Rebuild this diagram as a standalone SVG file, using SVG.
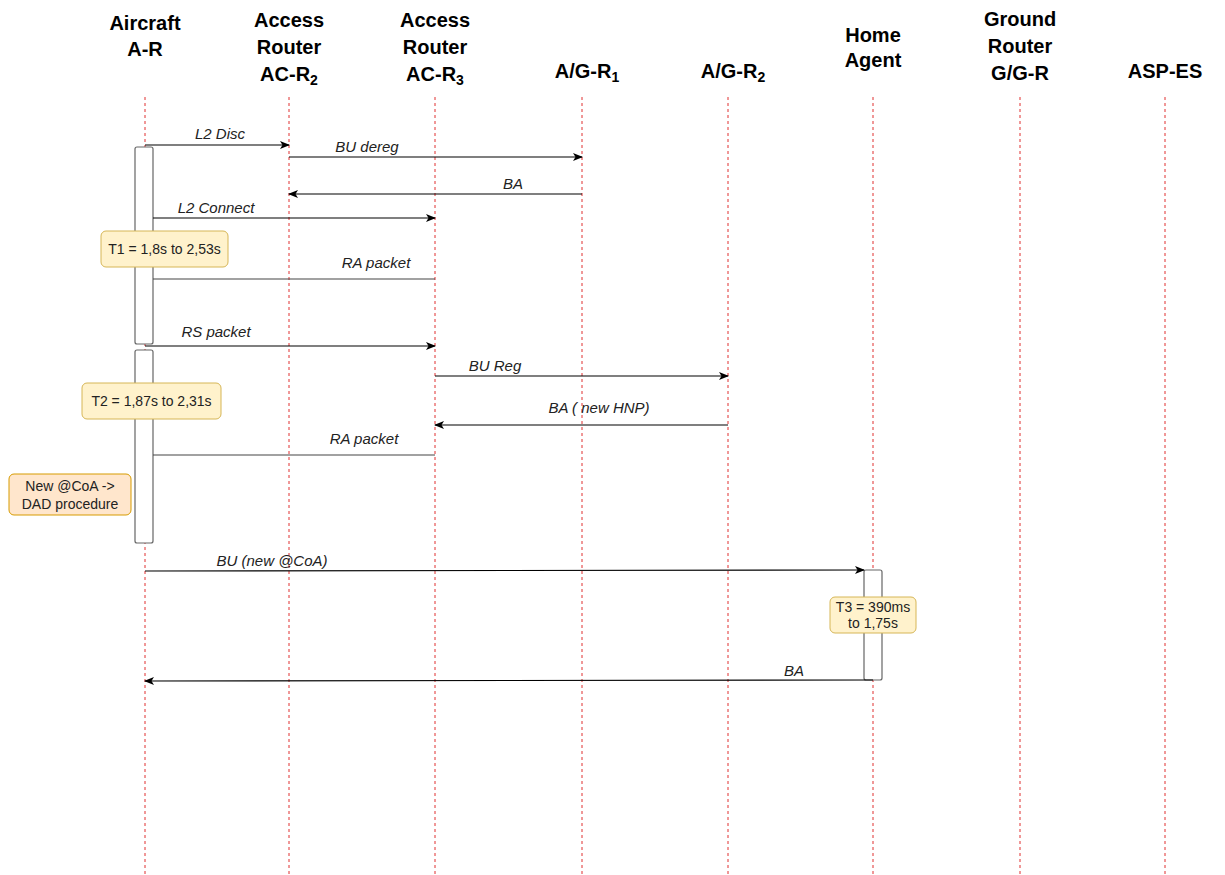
<svg xmlns="http://www.w3.org/2000/svg" width="1225" height="875" viewBox="0 0 1225 875">
<style>
.hdr{font-family:"Liberation Sans",Arial,sans-serif;font-weight:bold;font-size:20px;fill:#000;text-anchor:middle}
.sub{font-size:14px}
.life{stroke:#e03030;stroke-width:1;stroke-dasharray:3,3;fill:none}
.act{fill:#fff;stroke:#666;stroke-width:1.2}
.msg{stroke:#000;stroke-width:1.2;fill:none}
.plain{stroke:#444;stroke-width:1.2;fill:none}
.lbl{font-family:"Liberation Sans",Arial,sans-serif;font-style:italic;font-size:15px;fill:#222;text-anchor:middle}
.note{fill:#fff2cc;stroke:#d6b656;stroke-width:1}
.note2{fill:#ffe6cc;stroke:#d79b00;stroke-width:1}
.ntxt{font-family:"Liberation Sans",Arial,sans-serif;font-size:14px;fill:#222;text-anchor:middle}
</style>
<defs>
<marker id="arr" markerWidth="10" markerHeight="10" refX="9" refY="4" orient="auto" markerUnits="userSpaceOnUse">
<path d="M0,0 L10,4 L0,8 L2.5,4 z" fill="#000"/>
</marker>
</defs>
<rect width="1225" height="875" fill="#fff"/>
<g id="lifelines">
<line class="life" x1="145" y1="97" x2="145" y2="875"/>
<line class="life" x1="289" y1="97" x2="289" y2="875"/>
<line class="life" x1="435" y1="97" x2="435" y2="875"/>
<line class="life" x1="582" y1="97" x2="582" y2="875"/>
<line class="life" x1="728" y1="97" x2="728" y2="875"/>
<line class="life" x1="873" y1="97" x2="873" y2="875"/>
<line class="life" x1="1020" y1="97" x2="1020" y2="875"/>
<line class="life" x1="1165" y1="97" x2="1165" y2="875"/>
</g>
<g id="aircraft"><text class="hdr" x="145" y="30">Aircraft</text><text class="hdr" x="145" y="56">A-R</text></g>
<g id="acr2"><text class="hdr" x="289" y="27">Access</text><text class="hdr" x="289" y="54">Router</text><text class="hdr" x="289" y="81">AC-R<tspan class="sub" dy="4">2</tspan></text></g>
<g id="acr3"><text class="hdr" x="435" y="27">Access</text><text class="hdr" x="435" y="54">Router</text><text class="hdr" x="435" y="81">AC-R<tspan class="sub" dy="4">3</tspan></text></g>
<g id="agr1"><text class="hdr" x="587" y="78">A/G-R<tspan class="sub" dy="4">1</tspan></text></g>
<g id="agr2"><text class="hdr" x="733" y="78">A/G-R<tspan class="sub" dy="4">2</tspan></text></g>
<g id="homeagent"><text class="hdr" x="873" y="42">Home</text><text class="hdr" x="873" y="67">Agent</text></g>
<g id="groundrouter"><text class="hdr" x="1020" y="26">Ground</text><text class="hdr" x="1020" y="53">Router</text><text class="hdr" x="1020" y="80">G/G-R</text></g>
<g id="aspes"><text class="hdr" x="1165" y="78">ASP-ES</text></g>
<g id="activations">
<rect class="act" x="135" y="147" width="18" height="197" rx="2"/>
<rect class="act" x="135" y="350" width="18" height="193" rx="2"/>
<rect class="act" x="864" y="570" width="18" height="110" rx="2"/>
</g>
<g id="connectors">
<line class="msg" x1="145" y1="145" x2="289" y2="145" marker-end="url(#arr)"/>
<line class="msg" x1="289" y1="157" x2="582" y2="157" marker-end="url(#arr)"/>
<line class="msg" x1="582" y1="194" x2="289" y2="194" marker-end="url(#arr)"/>
<line class="msg" x1="153" y1="218" x2="435" y2="218" marker-end="url(#arr)"/>
<line class="plain" x1="435" y1="279" x2="153" y2="279"/>
<line class="msg" x1="145" y1="346" x2="435" y2="346" marker-end="url(#arr)"/>
<line class="msg" x1="435" y1="376" x2="728" y2="376" marker-end="url(#arr)"/>
<line class="msg" x1="728" y1="425" x2="435" y2="425" marker-end="url(#arr)"/>
<line class="plain" x1="435" y1="455" x2="153" y2="455"/>
<line class="msg" x1="145" y1="571" x2="864" y2="570" marker-end="url(#arr)"/>
<line class="msg" x1="873" y1="680" x2="145" y2="681" marker-end="url(#arr)"/>
</g>
<g id="labels">
<text class="lbl" x="220" y="139">L2 Disc</text>
<text class="lbl" x="367" y="152">BU dereg</text>
<text class="lbl" x="513" y="189">BA</text>
<text class="lbl" x="216" y="213">L2 Connect</text>
<text class="lbl" x="376" y="268">RA packet</text>
<text class="lbl" x="216" y="337">RS packet</text>
<text class="lbl" x="495" y="371">BU Reg</text>
<text class="lbl" x="599" y="413">BA ( new HNP)</text>
<text class="lbl" x="364" y="444">RA packet</text>
<text class="lbl" x="272" y="566">BU (new @CoA)</text>
<text class="lbl" x="794" y="676">BA</text>
</g>
<g id="note-t1"><rect class="note" x="101" y="231" width="127" height="36" rx="5"/><text class="ntxt" x="164.5" y="254">T1 = 1,8s to 2,53s</text></g>
<g id="note-t2"><rect class="note" x="82" y="383" width="139" height="36" rx="5"/><text class="ntxt" x="151.5" y="406">T2 = 1,87s to 2,31s</text></g>
<g id="note-coa"><rect class="note2" x="9" y="474" width="122" height="41" rx="5"/><text class="ntxt" x="70" y="491">New @CoA -&gt;</text><text class="ntxt" x="70" y="509">DAD procedure</text></g>
<g id="note-t3"><rect class="note" x="830" y="597" width="86" height="36" rx="5"/><text class="ntxt" x="873" y="612">T3 = 390ms</text><text class="ntxt" x="873" y="628">to 1,75s</text></g>
</svg>
